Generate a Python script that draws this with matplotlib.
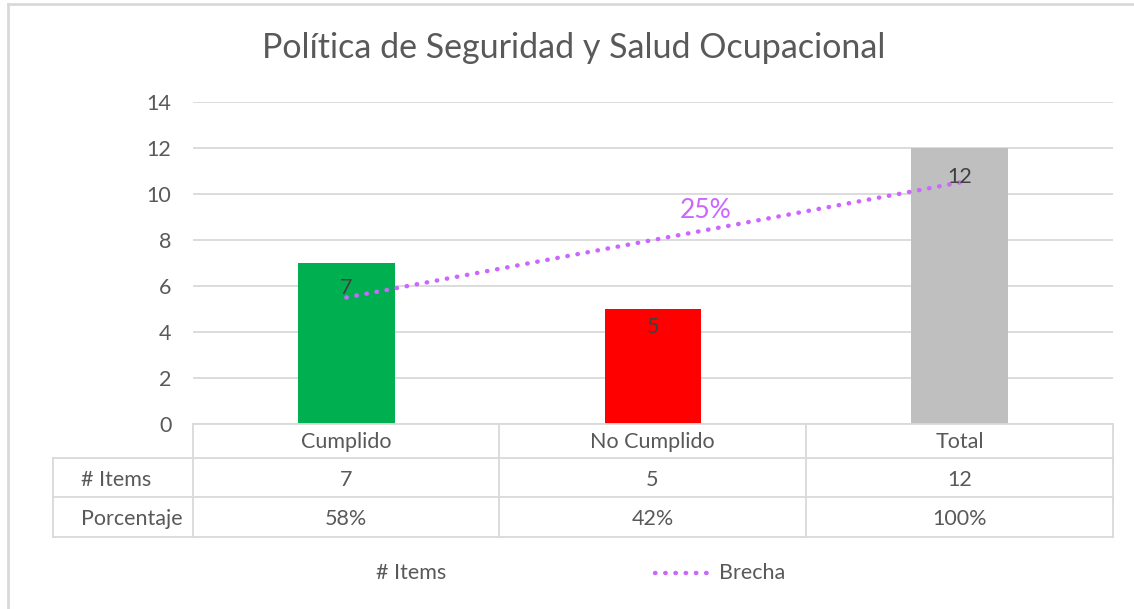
import matplotlib
matplotlib.use("Agg")
import matplotlib.pyplot as plt
from matplotlib.lines import Line2D

categories = ["Cumplido", "No Cumplido", "Total"]
items = [7, 5, 12]
percent_labels = ["58%", "42%", "100%"]
bar_colors = ["#00B050", "#FF0000", "#BFBFBF"]
brecha = [5.5, 8.0, 10.5]
brecha_label = "25%"
title = "Política de Seguridad y Salud Ocupacional"
yticks = [0, 2, 4, 6, 8, 10, 12, 14]
row_names = ["# Items", "Porcentaje"]

FONT = ["Lato", "DejaVu Sans"]
plt.rcParams["font.family"] = FONT
TXT = "#595959"
GRID = "#D9D9D9"
PURPLE = "#CC66FF"
FS = 15.5

W, H = 1134, 609
fig = plt.figure(figsize=(W / 100, H / 100), dpi=100)

def fx(px):
    return px / W

def fy(py):
    return 1 - py / H

# outer border (left and top visible)
bl = dict(color=GRID, lw=2, transform=fig.transFigure)
fig.add_artist(Line2D([fx(8), fx(8)], [fy(4), fy(609)], **bl))
fig.add_artist(Line2D([fx(8), fx(1134)], [fy(4), fy(4)], **bl))

ax_l, ax_r, ax_t, ax_b = 193, 1113, 102, 424
ax = fig.add_axes([fx(ax_l), fy(ax_b), fx(ax_r - ax_l), (ax_b - ax_t) / H])
x = list(range(len(categories)))
ax.bar(x, items, width=0.316, color=bar_colors, zorder=2)
ax.set_xlim(-0.5, len(categories) - 0.5)
ax.set_ylim(0, 14)
ax.set_yticks(yticks)
ax.set_yticklabels([str(v) for v in yticks], fontsize=FS, color=TXT)
ax.tick_params(axis="y", length=0, pad=15.5)
ax.set_xticks([])
for s in ax.spines.values():
    s.set_visible(False)
ax.grid(axis="y", color=GRID, lw=1.3, zorder=0)
ax.set_axisbelow(True)

# data labels (offset below bar top, in pixels)
label_offsets_px = [25, 18, 29]
for xi, v, off in zip(x, items, label_offsets_px):
    ax.text(xi, v - off / 23.0, str(v), ha="center", va="center", fontsize=FS,
            color="#404040", zorder=4)

# trendline (Brecha)
ax.plot(x, brecha, linestyle=(0, (0.1, 2.2)), dash_capstyle="round", lw=3.2,
        color=PURPLE, zorder=3)
ax.text(1.17, 9.3, brecha_label, ha="center", va="center", fontsize=19,
        color=PURPLE, zorder=4)

# title
fig.text(fx(574), fy(48), title, ha="center", va="center", fontsize=24.5, color=TXT)

# data table
col_edges = [193, 499, 806, 1113]
row_edges = [424, 458, 497, 537]
tl = dict(color=GRID, lw=1.3, transform=fig.transFigure)
fig.add_artist(Line2D([fx(193), fx(1113)], [fy(424), fy(424)], **tl))
for ce in col_edges:
    fig.add_artist(Line2D([fx(ce), fx(ce)], [fy(424), fy(537)], **tl))
for re_ in row_edges[1:]:
    fig.add_artist(Line2D([fx(53), fx(1113)], [fy(re_), fy(re_)], **tl))
fig.add_artist(Line2D([fx(53), fx(53)], [fy(458), fy(537)], **tl))

for i, c in enumerate(categories):
    cx = (col_edges[i] + col_edges[i + 1]) / 2
    fig.text(fx(cx), fy(442), c, ha="center", va="center", fontsize=FS, color=TXT)
    fig.text(fx(cx), fy(480), str(items[i]), ha="center", va="center", fontsize=FS, color=TXT)
    fig.text(fx(cx), fy(519), percent_labels[i], ha="center", va="center", fontsize=FS, color=TXT)
fig.text(fx(81), fy(480), row_names[0], ha="left", va="center", fontsize=FS, color=TXT)
fig.text(fx(81), fy(519), row_names[1], ha="left", va="center", fontsize=FS, color=TXT)

# legend
fig.text(fx(376), fy(573), "# Items", ha="left", va="center", fontsize=FS, color=TXT)
fig.add_artist(Line2D([fx(655), fx(712)], [fy(573), fy(573)], linestyle=(0, (0.1, 2.2)),
                      dash_capstyle="round", lw=3.2, color=PURPLE, transform=fig.transFigure))
fig.text(fx(719), fy(573), "Brecha", ha="left", va="center", fontsize=FS, color=TXT)

fig.savefig("out.png", dpi=100)
